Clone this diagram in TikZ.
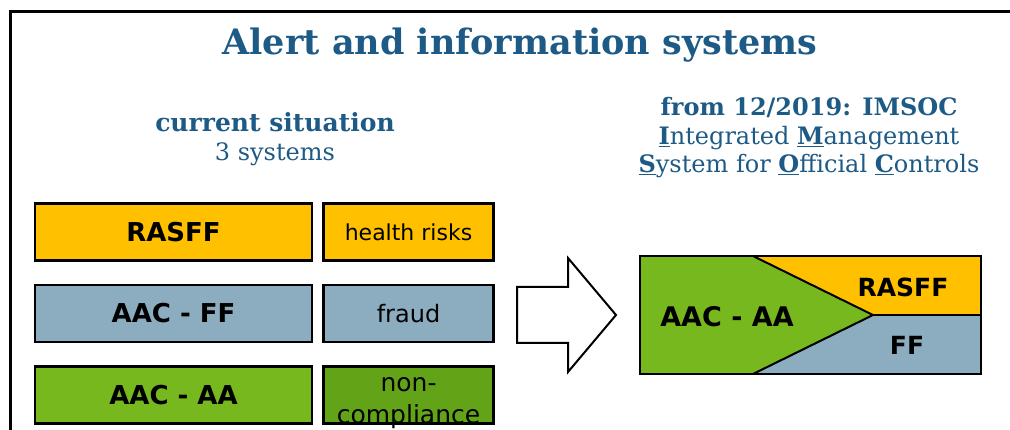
\documentclass[tikz,border=0pt]{standalone}
\usepackage{fontspec}
\setmainfont{DejaVu Serif}
\setsansfont{DejaVu Sans}
\usepackage{xcolor}
\usetikzlibrary{positioning}

\definecolor{rasffcol}{HTML}{FFC000}
\definecolor{fraudcol}{HTML}{8CADC0}
\definecolor{aacol}{HTML}{76B81E}
\definecolor{noncol}{HTML}{63A318}
\definecolor{headcol}{HTML}{1D5A85}

\tikzset{
  sysbox/.style={draw, line width=2.5pt, minimum width=277pt, minimum height=57pt, inner sep=0pt,
    font=\sffamily\bfseries\fontsize{26}{30}\selectfont},
  topicbox/.style={draw, line width=2.5pt, minimum width=170pt, minimum height=57pt, inner sep=0pt,
    align=center, font=\sffamily\fontsize{22}{26}\selectfont},
  headtext/.style={text=headcol, align=center, font=\fontsize{24}{28.5}\selectfont},
  mergelabel/.style={font=\sffamily\bfseries\fontsize{25}{28}\selectfont}
}

\begin{document}
\begin{tikzpicture}[x=1pt, y=-1pt, node distance=22pt]
\useasboundingbox (0,0) rectangle (1010,430);

% frame
\draw [line width=3pt] (10,440) -- (10,12) -- (1020,12);

% headings
\node (title) [text=headcol, font=\bfseries\fontsize{35}{40}\selectfont] at (520,45) {Alert and information systems};
\node (current) [headtext] at (275,139) {{\fontsize{25}{29}\selectfont\textbf{current situation}}\\3 systems};
\node (imsoc) [headtext] at (809,138) {\textbf{from 12/2019: IMSOC}\\
  \underline{\textbf{I}}ntegrated \underline{\textbf{M}}anagement\\
  \underline{\textbf{S}}ystem for \underline{\textbf{O}}fficial \underline{\textbf{C}}ontrols};

% the three systems
\node (rasff) [sysbox, fill=rasffcol] at (173.5,232) {RASFF};
\node (ff) [sysbox, fill=fraudcol, below=of rasff] {AAC - FF};
\node (aa) [sysbox, fill=aacol, below=of ff] {AAC - AA};

\node (risks) [topicbox, fill=rasffcol, right=9pt of rasff] {health risks};
\node (fraud) [topicbox, fill=fraudcol, right=9pt of ff, font=\sffamily\fontsize{24}{28}\selectfont] {fraud};
\node (noncomp) [topicbox, fill=noncol, right=9pt of aa, font=\sffamily\fontsize{25}{32}\selectfont]
  {\smash{\raisebox{-12pt}{\begin{tabular}{@{}c@{}}non-\\compliance\end{tabular}}}};

% block arrow
\draw [line width=2pt, fill=white] (517,287) -- (568,287) -- (568,258) -- (616,315)
  -- (568,372) -- (568,343) -- (517,343) -- cycle;

% merged system
\fill [aacol] (640,256) -- (753,256) -- (873,315) -- (753,374) -- (640,374) -- cycle;
\fill [rasffcol] (753,256) -- (981,256) -- (981,315) -- (873,315) -- cycle;
\fill [fraudcol] (873,315) -- (981,315) -- (981,374) -- (753,374) -- cycle;
\draw [line width=2.5pt] (640,256) rectangle (981,374);
\draw [line width=2pt] (753,256) -- (873,315) -- (753,374);
\draw [line width=2pt] (873,315) -- (981,315);

\node (imsocaa) [mergelabel, font=\sffamily\bfseries\fontsize{27}{30}\selectfont] at (727,317) {AAC - AA};
\node (imsocrasff) [mergelabel] at (903,287) {RASFF};
\node (imsocff) [mergelabel] at (907,345) {FF};
\end{tikzpicture}
\end{document}
